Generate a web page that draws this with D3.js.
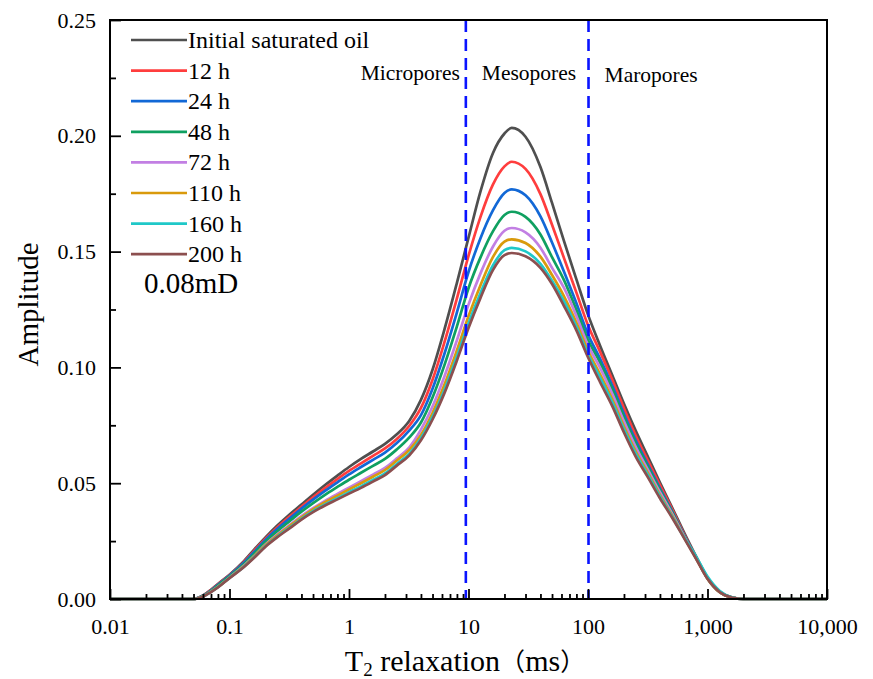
<!DOCTYPE html>
<html>
<head>
<meta charset="utf-8">
<script src="https://cdn.jsdelivr.net/npm/d3@7"></script>
<style>
  html, body { margin: 0; padding: 0; background: #fff; }
  svg { display: block; }
  text { font-family: "Liberation Serif", "Times New Roman", serif; fill: #000; }
</style>
</head>
<body>
<svg id="chart" width="873" height="679"></svg>
<script>
// ---------------- data ----------------
const T2 = [0.01, 0.03, 0.05, 0.06, 0.07, 0.08, 0.1, 0.13, 0.16, 0.2, 0.25, 0.32, 0.4, 0.5, 0.63, 0.8,
  1, 1.26, 1.6, 2, 2.5, 3.2, 4, 5, 6.3, 8, 10, 12.6, 16, 20, 23, 30, 40, 50, 63, 80,
  100, 126, 160, 200, 250, 320, 400, 500, 630, 800, 1000, 1260, 1600, 2000, 3000, 10000];

const initialOil = [0, 0, 0, .0015, .0040, .0065, .0105, .0160, .0212, .0266, .0316, .0366, .0408, .0450, .0492, .0533,
  .0570, .0605, .0638, .0670, .0710, .0770, .0860, .0990, .1165, .1365, .1560, .1760, .1925, .2010, .2034, .1996, .1865, .1710, .1545, .1380,
  .1228, .1095, .0965, .0843, .0728, .0610, .0503, .0400, .0292, .0185, .0092, .0032, .0007, 0, 0, 0];
const h12 = [0, 0, 0, .0014, .0039, .0063, .0103, .0156, .0207, .0260, .0309, .0357, .0398, .0439, .0479, .0518,
  .0553, .0586, .0619, .0650, .0690, .0748, .0825, .0947, .1110, .1298, .1482, .1650, .1789, .1868, .1888, .1857, .1748, .1616, .1472, .1323,
  .1182, .1068, .0945, .0823, .0707, .0593, .0492, .0393, .0285, .0182, .0091, .0031, .0006, 0, 0, 0];
const h24 = [0, 0, 0, .0014, .0037, .0061, .0101, .0153, .0202, .0255, .0302, .0349, .0390, .0429, .0467, .0504,
  .0538, .0570, .0602, .0632, .0672, .0728, .0794, .0908, .1060, .1238, .1412, .1558, .1678, .1753, .1769, .1743, .1652, .1539, .1413, .1277,
  .1143, .1038, .0919, .0799, .0686, .0576, .0478, .0384, .0280, .0180, .0090, .0031, .0006, 0, 0, 0];
const h48 = [0, 0, 0, .0013, .0035, .0058, .0098, .0148, .0195, .0247, .0292, .0337, .0377, .0414, .0450, .0484,
  .0515, .0545, .0576, .0605, .0645, .0698, .0762, .0870, .1011, .1177, .1342, .1475, .1587, .1658, .1672, .1650, .1574, .1476, .1377, .1248,
  .1118, .1022, .0905, .0786, .0675, .0567, .0471, .0380, .0277, .0179, .0089, .0030, .0006, 0, 0, 0];
const h72 = [0, 0, 0, .0011, .0032, .0053, .0093, .0141, .0185, .0235, .0278, .0320, .0358, .0392, .0424, .0454,
  .0481, .0509, .0538, .0566, .0606, .0655, .0731, .0831, .0962, .1117, .1271, .1406, .1521, .1590, .1602, .1583, .1517, .1430, .1343, .1222,
  .1096, .0999, .0885, .0767, .0658, .0554, .0461, .0373, .0275, .0178, .0089, .0030, .0006, 0, 0, 0];
const h110 = [0, 0, 0, .0011, .0032, .0052, .0092, .0139, .0183, .0232, .0274, .0316, .0353, .0387, .0418, .0446,
  .0473, .0500, .0529, .0557, .0597, .0644, .0708, .0803, .0926, .1074, .1221, .1355, .1476, .1543, .1553, .1537, .1478, .1399, .1307, .1193,
  .1072, .0971, .0861, .0745, .0639, .0540, .0449, .0365, .0271, .0177, .0088, .0030, .0006, 0, 0, 0];
const h160 = [0, 0, 0, .0010, .0031, .0051, .0091, .0136, .0179, .0228, .0269, .0309, .0346, .0379, .0408, .0435,
  .0461, .0486, .0515, .0542, .0582, .0628, .0694, .0786, .0904, .1047, .1190, .1321, .1440, .1506, .1516, .1501, .1447, .1374, .1285, .1175,
  .1057, .0956, .0848, .0733, .0629, .0532, .0443, .0360, .0270, .0185, .0097, .0036, .0007, 0, 0, 0];
const h200 = [0, 0, 0, .0010, .0030, .0050, .0090, .0135, .0177, .0226, .0266, .0306, .0343, .0375, .0404, .0430,
  .0455, .0480, .0508, .0535, .0575, .0620, .0685, .0775, .0890, .1030, .1170, .1300, .1420, .1485, .1494, .1480, .1430, .1360, .1265, .1160,
  .1044, .0937, .0832, .0719, .0616, .0522, .0435, .0355, .0267, .0175, .0087, .0030, .0006, 0, 0, 0];

const seriesNames = ["Initial saturated oil", "12 h", "24 h", "48 h", "72 h", "110 h", "160 h", "200 h"];
const seriesValues = [initialOil, h12, h24, h48, h72, h110, h160, h200];
const seriesColors = ["#4f4f4f", "#ff3d3d", "#1268d6", "#0fa060", "#c27fe3", "#d99a0c", "#1fc8c8", "#8c4f4f"];

const xTickValues = [0.01, 0.1, 1, 10, 100, 1000, 10000];
const xTickLabels = ["0.01", "0.1", "1", "10", "100", "1,000", "10,000"];
const yTickValues = [0, 0.05, 0.10, 0.15, 0.20, 0.25];
const yTickLabels = ["0.00", "0.05", "0.10", "0.15", "0.20", "0.25"];
const yMinorVals = [0.025, 0.075, 0.125, 0.175, 0.225];
const boundaryT2 = [9.5, 101];
const poreLabels = ["Micropores", "Mesopores", "Maropores"];
const sampleLabel = "0.08mD";

// ---------------- layout ----------------
const svg = d3.select("#chart");
const L = 110, R = 827, T = 20, B = 599;

const x = d3.scaleLog().domain([0.01, 10000]).range([L, R]);
const y = d3.scaleLinear().domain([0, 0.25]).range([B, T]);

// curves
const line = d3.line()
  .x(d => x(d[0]))
  .y(d => y(d[1]))
  .curve(d3.curveMonotoneX);

const g = svg.append("g");
seriesValues.forEach((vals, i) => {
  g.append("path")
    .datum(T2.map((t, k) => [t, vals[k]]))
    .attr("fill", "none")
    .attr("stroke", seriesColors[i])
    .attr("stroke-width", 2.7)
    .attr("stroke-linejoin", "round")
    .attr("d", line);
});

// boundary dashed lines
boundaryT2.forEach(v => {
  svg.append("line")
    .attr("x1", x(v)).attr("x2", x(v))
    .attr("y1", T).attr("y2", B)
    .attr("stroke", "#0a14ff")
    .attr("stroke-width", 2.6)
    .attr("stroke-dasharray", "12,7");
});

// axes
const minorX = x.ticks().filter(v => !xTickValues.some(m => Math.abs(m - v) / m < 1e-6));
const xMajor = d3.axisBottom(x).tickValues(xTickValues)
  .tickFormat((d, i) => xTickLabels[i]).tickSizeInner(-10).tickSizeOuter(0).tickPadding(19);
const xMinor = d3.axisBottom(x).tickValues(minorX).tickFormat("").tickSizeInner(-5).tickSizeOuter(0);

const yMajor = d3.axisLeft(y).tickValues(yTickValues)
  .tickFormat((d, i) => yTickLabels[i]).tickSizeInner(-11).tickSizeOuter(0).tickPadding(14);
const yMinor = d3.axisLeft(y).tickValues(yMinorVals).tickFormat("").tickSizeInner(-6).tickSizeOuter(0);

function styleAxis(sel) {
  sel.select(".domain").remove();
  sel.selectAll("line").attr("stroke", "#000").attr("stroke-width", 1.8);
  sel.selectAll("text").style("font-family", '"Liberation Serif", serif').style("font-size", "22px").attr("fill", "#000");
}
svg.append("g").attr("transform", `translate(0,${B})`).call(xMinor).call(styleAxis);
svg.append("g").attr("transform", `translate(0,${B})`).call(xMajor).call(styleAxis);
svg.append("g").attr("transform", `translate(${L},0)`).call(yMinor).call(styleAxis);
svg.append("g").attr("transform", `translate(${L},0)`).call(yMajor).call(styleAxis);

// frame
svg.append("rect")
  .attr("x", L).attr("y", T).attr("width", R - L).attr("height", B - T)
  .attr("fill", "none").attr("stroke", "#000").attr("stroke-width", 2);

// axis titles
const xt = svg.append("text")
  .attr("x", 465).attr("y", 671)
  .attr("text-anchor", "middle")
  .style("font-size", "30px");
xt.append("tspan").text("T");
xt.append("tspan").attr("dy", 5).style("font-size", "19px").text("2");
xt.append("tspan").attr("dy", -5).text(" relaxation");
xt.append("tspan").style("font-family", '"Noto Sans CJK SC", sans-serif').style("font-size", "25px").text("（");
xt.append("tspan").text("ms");
xt.append("tspan").style("font-family", '"Noto Sans CJK SC", sans-serif').style("font-size", "25px").text("）");

svg.append("text")
  .attr("transform", `translate(38,${(T + B) / 2 - 5}) rotate(-90)`)
  .attr("text-anchor", "middle")
  .style("font-size", "29px")
  .text("Amplitude");

// pore labels
svg.append("text").attr("x", x(boundaryT2[0]) - 6).attr("y", 80).attr("text-anchor", "end")
  .style("font-size", "21.5px").text(poreLabels[0]);
svg.append("text").attr("x", x(boundaryT2[0]) + 16).attr("y", 80).attr("text-anchor", "start")
  .style("font-size", "21.5px").text(poreLabels[1]);
svg.append("text").attr("x", x(boundaryT2[1]) + 16).attr("y", 82).attr("text-anchor", "start")
  .style("font-size", "21.5px").text(poreLabels[2]);

// legend
const legend = svg.append("g");
seriesNames.forEach((name, i) => {
  const yy = 40 + i * 30.6;
  legend.append("line").attr("x1", 131).attr("x2", 187).attr("y1", yy).attr("y2", yy)
    .attr("stroke", seriesColors[i]).attr("stroke-width", 2.7);
  legend.append("text").attr("x", 188).attr("y", yy + 8)
    .style("font-size", "24px").text(name);
});
legend.append("text").attr("x", 144).attr("y", 293)
  .style("font-size", "29px").text(sampleLabel);
</script>
</body>
</html>
